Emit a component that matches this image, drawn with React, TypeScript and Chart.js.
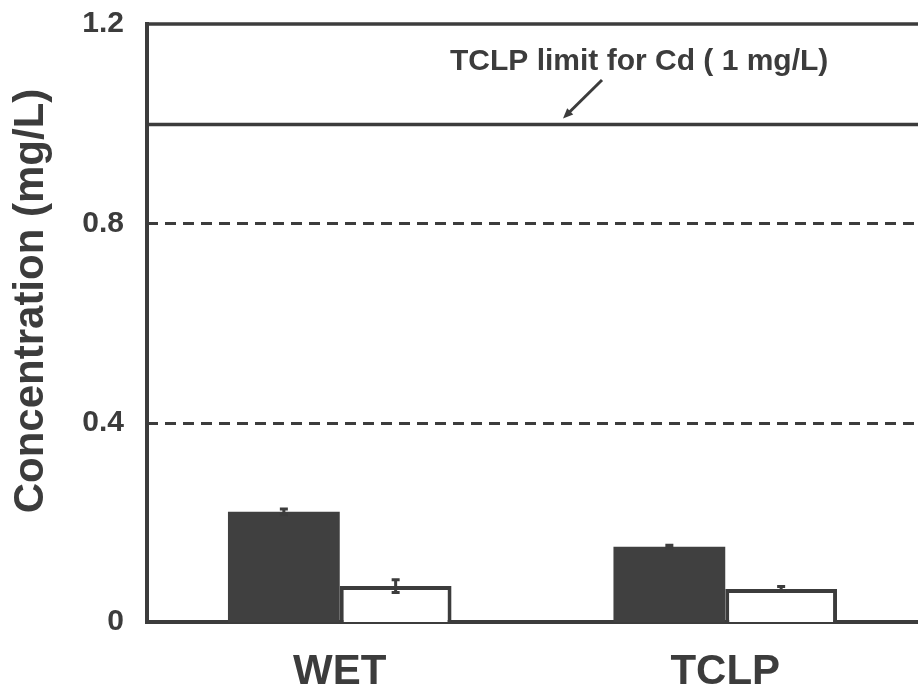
import React, { useEffect, useRef } from "react";
import { Chart, registerables } from "chart.js";

Chart.register(...registerables);

const categories = ["WET", "TCLP"];
const darkValues = [0.221, 0.151];
const darkErrors = [0.006, 0.003];
const whiteValues = [0.072, 0.066];
const whiteErrors = [0.013, 0.005];
const yTicks = [0, 0.4, 0.8, 1.2];
const dashedLines = [0.4, 0.8];
const limitValue = 1.0;
const limitLabel = "TCLP limit for Cd ( 1 mg/L)";
const yTitle = "Concentration (mg/L)";

const INK = "#3c3c3c";
const FONT = "'Liberation Sans', Arial, Helvetica, sans-serif";

const overlayPlugin = {
  id: "overlay",
  afterDatasetsDraw(chart: any) {
    const { ctx, chartArea, scales } = chart;
    const y = scales.y;
    ctx.save();
    // reference dashed lines
    ctx.strokeStyle = INK;
    ctx.lineWidth = 3;
    ctx.setLineDash([11, 7]);
    dashedLines.forEach((v) => {
      const py = Math.round(y.getPixelForValue(v)) + 0.5;
      ctx.beginPath();
      ctx.moveTo(chartArea.left, py);
      ctx.lineTo(chartArea.right, py);
      ctx.stroke();
    });
    ctx.setLineDash([]);
    // limit line
    const ly = Math.round(y.getPixelForValue(limitValue)) + 0.5;
    ctx.lineWidth = 3.5;
    ctx.beginPath();
    ctx.moveTo(chartArea.left, ly);
    ctx.lineTo(chartArea.right, ly);
    ctx.stroke();
    // top border
    ctx.lineWidth = 3.5;
    ctx.beginPath();
    ctx.moveTo(chartArea.left - 2, chartArea.top);
    ctx.lineTo(chartArea.right, chartArea.top);
    ctx.stroke();

    // error bars
    const sets = [darkErrors, whiteErrors];
    chart.data.datasets.forEach((ds: any, di: number) => {
      const meta = chart.getDatasetMeta(di);
      meta.data.forEach((bar: any, i: number) => {
        const v = ds.data[i];
        const e = sets[di][i];
        const x = bar.x;
        const top = y.getPixelForValue(v + e);
        const bot = y.getPixelForValue(v - e);
        ctx.strokeStyle = INK;
        ctx.lineWidth = 3;
        ctx.beginPath();
        ctx.moveTo(x, top);
        ctx.lineTo(x, bot);
        ctx.moveTo(x - 4, top);
        ctx.lineTo(x + 4, top);
        ctx.moveTo(x - 4, bot);
        ctx.lineTo(x + 4, bot);
        ctx.stroke();
      });
    });

    // annotation text
    ctx.fillStyle = INK;
    ctx.font = `bold 30px ${FONT}`;
    ctx.textAlign = "left";
    ctx.textBaseline = "alphabetic";
    ctx.fillText(limitLabel, 450, 70);
    // arrow
    const tipX = 563;
    const tipY = ly - 6;
    const sx = 602;
    const sy = 80;
    ctx.lineWidth = 3;
    ctx.beginPath();
    ctx.moveTo(sx, sy);
    ctx.lineTo(tipX + 4, tipY - 4);
    ctx.stroke();
    const ang = Math.atan2(tipY - sy, tipX - sx);
    ctx.beginPath();
    ctx.moveTo(tipX, tipY);
    ctx.lineTo(tipX - 11 * Math.cos(ang - 0.4), tipY - 11 * Math.sin(ang - 0.4));
    ctx.lineTo(tipX - 11 * Math.cos(ang + 0.4), tipY - 11 * Math.sin(ang + 0.4));
    ctx.closePath();
    ctx.fill();

    // y title
    ctx.save();
    ctx.translate(31, (chartArea.top + chartArea.bottom) / 2 - 22);
    ctx.rotate(-Math.PI / 2);
    ctx.font = `bold 42px ${FONT}`;
    ctx.textAlign = "center";
    ctx.textBaseline = "middle";
    ctx.fillText(yTitle, 0, 0);
    ctx.restore();

    ctx.restore();
  },
};

export default function App() {
  const ref = useRef<HTMLCanvasElement | null>(null);
  useEffect(() => {
    if (!ref.current) return;
    const chart = new Chart(ref.current, {
      type: "bar",
      data: {
        labels: categories,
        datasets: [
          {
            label: "Dark",
            data: darkValues,
            backgroundColor: "#404040",
            borderColor: "#404040",
            borderWidth: 0,
            categoryPercentage: 0.58,
            barPercentage: 1.0,
          },
          {
            label: "White",
            data: whiteValues,
            backgroundColor: "#ffffff",
            borderColor: INK,
            borderWidth: 4,
            categoryPercentage: 0.58,
            barPercentage: 1.0,
          },
        ],
      },
      options: {
        responsive: false,
        animation: false,
        layout: { padding: { top: 24, right: 0, left: 0, bottom: 0 } },
        plugins: {
          legend: { display: false },
          tooltip: { enabled: false },
        },
        scales: {
          x: {
            offset: true,
            grid: { display: false, drawTicks: false },
            border: { display: true, color: INK, width: 4 },
            ticks: {
              color: INK,
              padding: 25,
              font: { family: FONT, size: 42, weight: "bold" },
            },
            afterFit: (s: any) => {
              s.height = 73;
              s.paddingLeft = 0;
              s.paddingRight = 0;
            },
          },
          y: {
            min: 0,
            max: 1.2,
            afterBuildTicks: (s: any) => {
              s.ticks = yTicks.map((v) => ({ value: v }));
            },
            grid: { display: false, drawTicks: false },
            border: { display: true, color: INK, width: 4 },
            ticks: {
              color: INK,
              padding: 23,
              font: { family: FONT, size: 30, weight: "bold" },
              callback: (v: any) => (Number(v) === 0 ? "0" : Number(v).toFixed(1)),
            },
            afterFit: (s: any) => {
              s.width = 147;
              s.paddingTop = 0;
              s.paddingBottom = 0;
            },
          },
        },
      },
      plugins: [overlayPlugin],
    });
    return () => chart.destroy();
  }, []);
  return (
    <div style={{ position: "absolute", left: 0, top: 0, width: 918, height: 695, background: "#fff" }}>
      <canvas ref={ref} width={918} height={695} />
    </div>
  );
}
